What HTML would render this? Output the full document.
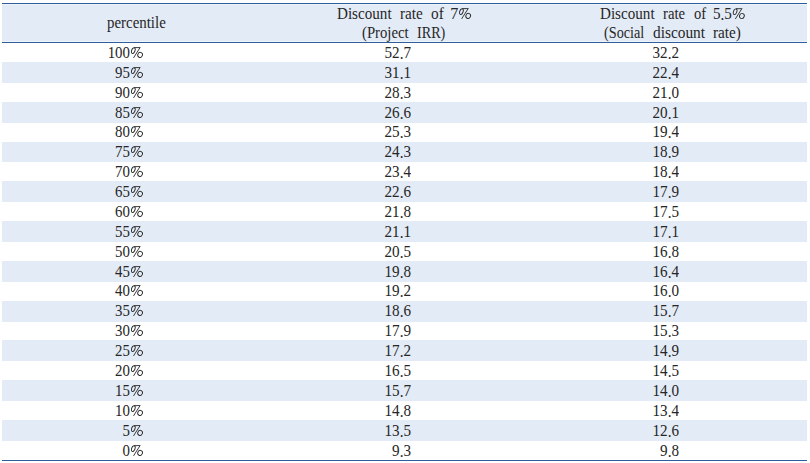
<!DOCTYPE html>
<html><head><meta charset="utf-8"><style>
html,body{margin:0;padding:0;background:#fff;width:810px;height:463px;overflow:hidden;position:relative}
body{font-family:"Liberation Serif",serif;color:#262626;font-size:16px}
.r{position:absolute;left:2px;width:805px;background:#e3ebf6}
.l{position:absolute;left:2px;width:805px;height:1px;background:#2e5e9c}
.t{position:absolute;white-space:pre;line-height:1;transform:scaleX(0.945);transform-origin:100% 0}
.w{position:absolute;white-space:pre;line-height:1;transform-origin:0 0}
.d{position:relative;top:1px}
.p{position:absolute;width:14px;height:13px;overflow:visible}
.c1{right:679.8px;transform:scaleX(0.93)} .c2{right:399px} .c3{right:131px}
</style></head><body>

<div class="r" style="top:4px;height:38px;background:#eff4fb"></div>
<div class="r" style="top:5px;height:36px"></div>
<div class="l" style="top:3px"></div>
<div class="l" style="top:42px"></div>
<div class="l" style="top:460px"></div>
<div class="r" style="top:62px;height:21px"></div>
<div class="r" style="top:102px;height:21px"></div>
<div class="r" style="top:142px;height:20px"></div>
<div class="r" style="top:181px;height:21px"></div>
<div class="r" style="top:221px;height:21px"></div>
<div class="r" style="top:261px;height:21px"></div>
<div class="r" style="top:301px;height:21px"></div>
<div class="r" style="top:340px;height:21px"></div>
<div class="r" style="top:380px;height:21px"></div>
<div class="r" style="top:420px;height:21px"></div>
<div class="w" style="left:107.00px;top:15px;transform:scaleX(0.9317)">percentile</div>
<div class="w" style="left:337.40px;top:6px;transform:scaleX(0.9448)">Discount</div>
<div class="w" style="left:400.40px;top:6px;transform:scaleX(0.9500)">rate</div>
<div class="w" style="left:431.00px;top:6px;transform:scaleX(0.9571)">of</div>
<div class="w" style="left:450.30px;top:6px;transform:scaleX(1.0000)">7</div>
<div class="w" style="left:362.20px;top:25px;transform:scaleX(0.9196)">(Project</div>
<div class="w" style="left:416.90px;top:25px;transform:scaleX(0.8844)">IRR)</div>
<div class="w" style="left:600.00px;top:6px;transform:scaleX(0.9448)">Discount</div>
<div class="w" style="left:663.20px;top:6px;transform:scaleX(0.9208)">rate</div>
<div class="w" style="left:693.70px;top:6px;transform:scaleX(0.9143)">of</div>
<div class="w" style="left:712.50px;top:6px;transform:scaleX(0.9450)">5<span class="d">.</span>5</div>
<div class="w" style="left:604.40px;top:25px;transform:scaleX(0.8889)">(Social</div>
<div class="w" style="left:652.80px;top:25px;transform:scaleX(0.9593)">discount</div>
<div class="w" style="left:712.50px;top:25px;transform:scaleX(0.9517)">rate)</div>
<svg class="p" style="left:458px;top:7px" width="14" height="13" viewBox="0 0 14 13"><g transform="translate(0.60 0.50)" fill="none" stroke="#262626" stroke-width="0.9"><ellipse cx="2.8" cy="4.1" rx="1.65" ry="3.0" transform="rotate(22 2.8 4.1)"/><path d="M3.6 1.1H9.6M9.7 0.9L3 11.4"/><ellipse cx="9.6" cy="8.4" rx="2.3" ry="2.6" transform="rotate(25 9.6 8.4)"/></g></svg>
<svg class="p" style="left:732px;top:7px" width="14" height="13" viewBox="0 0 14 13"><g transform="translate(0.30 0.60)" fill="none" stroke="#262626" stroke-width="0.9"><ellipse cx="2.8" cy="4.1" rx="1.65" ry="3.0" transform="rotate(22 2.8 4.1)"/><path d="M3.6 1.1H9.6M9.7 0.9L3 11.4"/><ellipse cx="9.6" cy="8.4" rx="2.3" ry="2.6" transform="rotate(25 9.6 8.4)"/></g></svg>
<div class="t c1" style="top:45px">100</div><div class="t c2" style="top:45px">52<span class="d">.</span>7</div><div class="t c3" style="top:45px">32<span class="d">.</span>2</div>
<svg class="p" style="left:130px;top:46px" width="14" height="13" viewBox="0 0 14 13"><g transform="translate(0.50 0.50)" fill="none" stroke="#262626" stroke-width="0.9"><ellipse cx="2.8" cy="4.1" rx="1.65" ry="3.0" transform="rotate(22 2.8 4.1)"/><path d="M3.6 1.1H9.6M9.7 0.9L3 11.4"/><ellipse cx="9.6" cy="8.4" rx="2.3" ry="2.6" transform="rotate(25 9.6 8.4)"/></g></svg>
<div class="t c1" style="top:65px">95</div><div class="t c2" style="top:65px">31<span class="d">.</span>1</div><div class="t c3" style="top:65px">22<span class="d">.</span>4</div>
<svg class="p" style="left:130px;top:66px" width="14" height="13" viewBox="0 0 14 13"><g transform="translate(0.50 0.50)" fill="none" stroke="#262626" stroke-width="0.9"><ellipse cx="2.8" cy="4.1" rx="1.65" ry="3.0" transform="rotate(22 2.8 4.1)"/><path d="M3.6 1.1H9.6M9.7 0.9L3 11.4"/><ellipse cx="9.6" cy="8.4" rx="2.3" ry="2.6" transform="rotate(25 9.6 8.4)"/></g></svg>
<div class="t c1" style="top:85px">90</div><div class="t c2" style="top:85px">28<span class="d">.</span>3</div><div class="t c3" style="top:85px">21<span class="d">.</span>0</div>
<svg class="p" style="left:130px;top:86px" width="14" height="13" viewBox="0 0 14 13"><g transform="translate(0.50 0.50)" fill="none" stroke="#262626" stroke-width="0.9"><ellipse cx="2.8" cy="4.1" rx="1.65" ry="3.0" transform="rotate(22 2.8 4.1)"/><path d="M3.6 1.1H9.6M9.7 0.9L3 11.4"/><ellipse cx="9.6" cy="8.4" rx="2.3" ry="2.6" transform="rotate(25 9.6 8.4)"/></g></svg>
<div class="t c1" style="top:105px">85</div><div class="t c2" style="top:105px">26<span class="d">.</span>6</div><div class="t c3" style="top:105px">20<span class="d">.</span>1</div>
<svg class="p" style="left:130px;top:106px" width="14" height="13" viewBox="0 0 14 13"><g transform="translate(0.50 0.50)" fill="none" stroke="#262626" stroke-width="0.9"><ellipse cx="2.8" cy="4.1" rx="1.65" ry="3.0" transform="rotate(22 2.8 4.1)"/><path d="M3.6 1.1H9.6M9.7 0.9L3 11.4"/><ellipse cx="9.6" cy="8.4" rx="2.3" ry="2.6" transform="rotate(25 9.6 8.4)"/></g></svg>
<div class="t c1" style="top:124px">80</div><div class="t c2" style="top:124px">25<span class="d">.</span>3</div><div class="t c3" style="top:124px">19<span class="d">.</span>4</div>
<svg class="p" style="left:130px;top:125px" width="14" height="13" viewBox="0 0 14 13"><g transform="translate(0.50 0.50)" fill="none" stroke="#262626" stroke-width="0.9"><ellipse cx="2.8" cy="4.1" rx="1.65" ry="3.0" transform="rotate(22 2.8 4.1)"/><path d="M3.6 1.1H9.6M9.7 0.9L3 11.4"/><ellipse cx="9.6" cy="8.4" rx="2.3" ry="2.6" transform="rotate(25 9.6 8.4)"/></g></svg>
<div class="t c1" style="top:144px">75</div><div class="t c2" style="top:144px">24<span class="d">.</span>3</div><div class="t c3" style="top:144px">18<span class="d">.</span>9</div>
<svg class="p" style="left:130px;top:145px" width="14" height="13" viewBox="0 0 14 13"><g transform="translate(0.50 0.50)" fill="none" stroke="#262626" stroke-width="0.9"><ellipse cx="2.8" cy="4.1" rx="1.65" ry="3.0" transform="rotate(22 2.8 4.1)"/><path d="M3.6 1.1H9.6M9.7 0.9L3 11.4"/><ellipse cx="9.6" cy="8.4" rx="2.3" ry="2.6" transform="rotate(25 9.6 8.4)"/></g></svg>
<div class="t c1" style="top:164px">70</div><div class="t c2" style="top:164px">23<span class="d">.</span>4</div><div class="t c3" style="top:164px">18<span class="d">.</span>4</div>
<svg class="p" style="left:130px;top:165px" width="14" height="13" viewBox="0 0 14 13"><g transform="translate(0.50 0.50)" fill="none" stroke="#262626" stroke-width="0.9"><ellipse cx="2.8" cy="4.1" rx="1.65" ry="3.0" transform="rotate(22 2.8 4.1)"/><path d="M3.6 1.1H9.6M9.7 0.9L3 11.4"/><ellipse cx="9.6" cy="8.4" rx="2.3" ry="2.6" transform="rotate(25 9.6 8.4)"/></g></svg>
<div class="t c1" style="top:184px">65</div><div class="t c2" style="top:184px">22<span class="d">.</span>6</div><div class="t c3" style="top:184px">17<span class="d">.</span>9</div>
<svg class="p" style="left:130px;top:185px" width="14" height="13" viewBox="0 0 14 13"><g transform="translate(0.50 0.50)" fill="none" stroke="#262626" stroke-width="0.9"><ellipse cx="2.8" cy="4.1" rx="1.65" ry="3.0" transform="rotate(22 2.8 4.1)"/><path d="M3.6 1.1H9.6M9.7 0.9L3 11.4"/><ellipse cx="9.6" cy="8.4" rx="2.3" ry="2.6" transform="rotate(25 9.6 8.4)"/></g></svg>
<div class="t c1" style="top:204px">60</div><div class="t c2" style="top:204px">21<span class="d">.</span>8</div><div class="t c3" style="top:204px">17<span class="d">.</span>5</div>
<svg class="p" style="left:130px;top:205px" width="14" height="13" viewBox="0 0 14 13"><g transform="translate(0.50 0.50)" fill="none" stroke="#262626" stroke-width="0.9"><ellipse cx="2.8" cy="4.1" rx="1.65" ry="3.0" transform="rotate(22 2.8 4.1)"/><path d="M3.6 1.1H9.6M9.7 0.9L3 11.4"/><ellipse cx="9.6" cy="8.4" rx="2.3" ry="2.6" transform="rotate(25 9.6 8.4)"/></g></svg>
<div class="t c1" style="top:224px">55</div><div class="t c2" style="top:224px">21<span class="d">.</span>1</div><div class="t c3" style="top:224px">17<span class="d">.</span>1</div>
<svg class="p" style="left:130px;top:225px" width="14" height="13" viewBox="0 0 14 13"><g transform="translate(0.50 0.50)" fill="none" stroke="#262626" stroke-width="0.9"><ellipse cx="2.8" cy="4.1" rx="1.65" ry="3.0" transform="rotate(22 2.8 4.1)"/><path d="M3.6 1.1H9.6M9.7 0.9L3 11.4"/><ellipse cx="9.6" cy="8.4" rx="2.3" ry="2.6" transform="rotate(25 9.6 8.4)"/></g></svg>
<div class="t c1" style="top:244px">50</div><div class="t c2" style="top:244px">20<span class="d">.</span>5</div><div class="t c3" style="top:244px">16<span class="d">.</span>8</div>
<svg class="p" style="left:130px;top:245px" width="14" height="13" viewBox="0 0 14 13"><g transform="translate(0.50 0.50)" fill="none" stroke="#262626" stroke-width="0.9"><ellipse cx="2.8" cy="4.1" rx="1.65" ry="3.0" transform="rotate(22 2.8 4.1)"/><path d="M3.6 1.1H9.6M9.7 0.9L3 11.4"/><ellipse cx="9.6" cy="8.4" rx="2.3" ry="2.6" transform="rotate(25 9.6 8.4)"/></g></svg>
<div class="t c1" style="top:264px">45</div><div class="t c2" style="top:264px">19<span class="d">.</span>8</div><div class="t c3" style="top:264px">16<span class="d">.</span>4</div>
<svg class="p" style="left:130px;top:265px" width="14" height="13" viewBox="0 0 14 13"><g transform="translate(0.50 0.50)" fill="none" stroke="#262626" stroke-width="0.9"><ellipse cx="2.8" cy="4.1" rx="1.65" ry="3.0" transform="rotate(22 2.8 4.1)"/><path d="M3.6 1.1H9.6M9.7 0.9L3 11.4"/><ellipse cx="9.6" cy="8.4" rx="2.3" ry="2.6" transform="rotate(25 9.6 8.4)"/></g></svg>
<div class="t c1" style="top:283px">40</div><div class="t c2" style="top:283px">19<span class="d">.</span>2</div><div class="t c3" style="top:283px">16<span class="d">.</span>0</div>
<svg class="p" style="left:130px;top:284px" width="14" height="13" viewBox="0 0 14 13"><g transform="translate(0.50 0.50)" fill="none" stroke="#262626" stroke-width="0.9"><ellipse cx="2.8" cy="4.1" rx="1.65" ry="3.0" transform="rotate(22 2.8 4.1)"/><path d="M3.6 1.1H9.6M9.7 0.9L3 11.4"/><ellipse cx="9.6" cy="8.4" rx="2.3" ry="2.6" transform="rotate(25 9.6 8.4)"/></g></svg>
<div class="t c1" style="top:303px">35</div><div class="t c2" style="top:303px">18<span class="d">.</span>6</div><div class="t c3" style="top:303px">15<span class="d">.</span>7</div>
<svg class="p" style="left:130px;top:304px" width="14" height="13" viewBox="0 0 14 13"><g transform="translate(0.50 0.50)" fill="none" stroke="#262626" stroke-width="0.9"><ellipse cx="2.8" cy="4.1" rx="1.65" ry="3.0" transform="rotate(22 2.8 4.1)"/><path d="M3.6 1.1H9.6M9.7 0.9L3 11.4"/><ellipse cx="9.6" cy="8.4" rx="2.3" ry="2.6" transform="rotate(25 9.6 8.4)"/></g></svg>
<div class="t c1" style="top:323px">30</div><div class="t c2" style="top:323px">17<span class="d">.</span>9</div><div class="t c3" style="top:323px">15<span class="d">.</span>3</div>
<svg class="p" style="left:130px;top:324px" width="14" height="13" viewBox="0 0 14 13"><g transform="translate(0.50 0.50)" fill="none" stroke="#262626" stroke-width="0.9"><ellipse cx="2.8" cy="4.1" rx="1.65" ry="3.0" transform="rotate(22 2.8 4.1)"/><path d="M3.6 1.1H9.6M9.7 0.9L3 11.4"/><ellipse cx="9.6" cy="8.4" rx="2.3" ry="2.6" transform="rotate(25 9.6 8.4)"/></g></svg>
<div class="t c1" style="top:343px">25</div><div class="t c2" style="top:343px">17<span class="d">.</span>2</div><div class="t c3" style="top:343px">14<span class="d">.</span>9</div>
<svg class="p" style="left:130px;top:344px" width="14" height="13" viewBox="0 0 14 13"><g transform="translate(0.50 0.50)" fill="none" stroke="#262626" stroke-width="0.9"><ellipse cx="2.8" cy="4.1" rx="1.65" ry="3.0" transform="rotate(22 2.8 4.1)"/><path d="M3.6 1.1H9.6M9.7 0.9L3 11.4"/><ellipse cx="9.6" cy="8.4" rx="2.3" ry="2.6" transform="rotate(25 9.6 8.4)"/></g></svg>
<div class="t c1" style="top:363px">20</div><div class="t c2" style="top:363px">16<span class="d">.</span>5</div><div class="t c3" style="top:363px">14<span class="d">.</span>5</div>
<svg class="p" style="left:130px;top:364px" width="14" height="13" viewBox="0 0 14 13"><g transform="translate(0.50 0.50)" fill="none" stroke="#262626" stroke-width="0.9"><ellipse cx="2.8" cy="4.1" rx="1.65" ry="3.0" transform="rotate(22 2.8 4.1)"/><path d="M3.6 1.1H9.6M9.7 0.9L3 11.4"/><ellipse cx="9.6" cy="8.4" rx="2.3" ry="2.6" transform="rotate(25 9.6 8.4)"/></g></svg>
<div class="t c1" style="top:383px">15</div><div class="t c2" style="top:383px">15<span class="d">.</span>7</div><div class="t c3" style="top:383px">14<span class="d">.</span>0</div>
<svg class="p" style="left:130px;top:384px" width="14" height="13" viewBox="0 0 14 13"><g transform="translate(0.50 0.50)" fill="none" stroke="#262626" stroke-width="0.9"><ellipse cx="2.8" cy="4.1" rx="1.65" ry="3.0" transform="rotate(22 2.8 4.1)"/><path d="M3.6 1.1H9.6M9.7 0.9L3 11.4"/><ellipse cx="9.6" cy="8.4" rx="2.3" ry="2.6" transform="rotate(25 9.6 8.4)"/></g></svg>
<div class="t c1" style="top:403px">10</div><div class="t c2" style="top:403px">14<span class="d">.</span>8</div><div class="t c3" style="top:403px">13<span class="d">.</span>4</div>
<svg class="p" style="left:130px;top:404px" width="14" height="13" viewBox="0 0 14 13"><g transform="translate(0.50 0.50)" fill="none" stroke="#262626" stroke-width="0.9"><ellipse cx="2.8" cy="4.1" rx="1.65" ry="3.0" transform="rotate(22 2.8 4.1)"/><path d="M3.6 1.1H9.6M9.7 0.9L3 11.4"/><ellipse cx="9.6" cy="8.4" rx="2.3" ry="2.6" transform="rotate(25 9.6 8.4)"/></g></svg>
<div class="t c1" style="top:423px">5</div><div class="t c2" style="top:423px">13<span class="d">.</span>5</div><div class="t c3" style="top:423px">12<span class="d">.</span>6</div>
<svg class="p" style="left:130px;top:424px" width="14" height="13" viewBox="0 0 14 13"><g transform="translate(0.50 0.50)" fill="none" stroke="#262626" stroke-width="0.9"><ellipse cx="2.8" cy="4.1" rx="1.65" ry="3.0" transform="rotate(22 2.8 4.1)"/><path d="M3.6 1.1H9.6M9.7 0.9L3 11.4"/><ellipse cx="9.6" cy="8.4" rx="2.3" ry="2.6" transform="rotate(25 9.6 8.4)"/></g></svg>
<div class="t c1" style="top:443px">0</div><div class="t c2" style="top:443px">9<span class="d">.</span>3</div><div class="t c3" style="top:443px">9<span class="d">.</span>8</div>
<svg class="p" style="left:130px;top:444px" width="14" height="13" viewBox="0 0 14 13"><g transform="translate(0.50 0.50)" fill="none" stroke="#262626" stroke-width="0.9"><ellipse cx="2.8" cy="4.1" rx="1.65" ry="3.0" transform="rotate(22 2.8 4.1)"/><path d="M3.6 1.1H9.6M9.7 0.9L3 11.4"/><ellipse cx="9.6" cy="8.4" rx="2.3" ry="2.6" transform="rotate(25 9.6 8.4)"/></g></svg>
</body></html>
